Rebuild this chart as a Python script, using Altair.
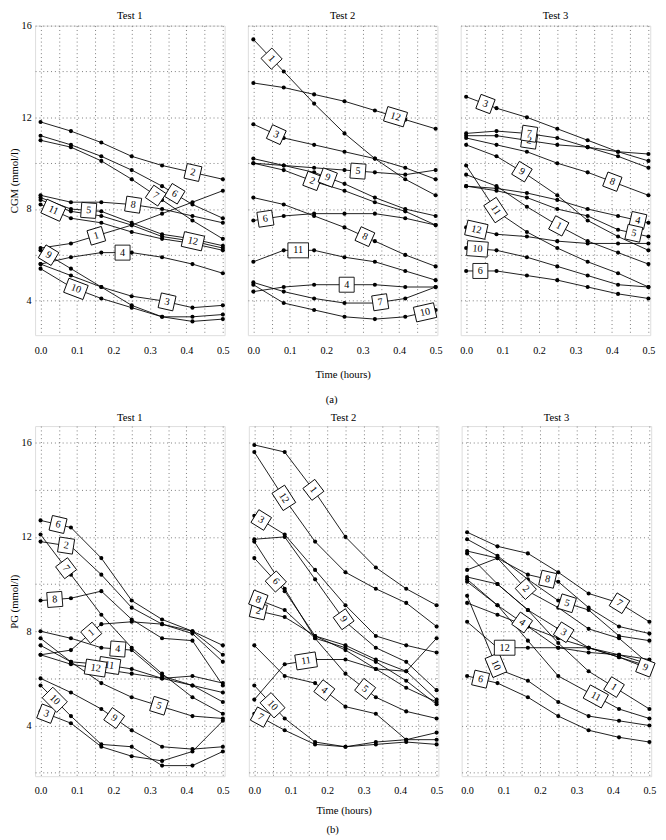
import altair as alt
import numpy as np
import pandas as pd

# ---------------- data ----------------
times = [0.0, 5 / 60, 10 / 60, 15 / 60, 20 / 60, 25 / 60, 30 / 60]
subjects = list(range(1, 13))

# CGM (mmol/l), rows = subject 1..12
cgm_test1 = [
    [6.3, 6.5, 6.9, 7.3, 7.8, 8.3, 8.8],
    [11.8, 11.4, 10.9, 10.3, 9.9, 9.6, 9.3],
    [5.6, 5.1, 4.6, 4.2, 4.0, 3.7, 3.8],
    [5.6, 5.9, 6.1, 6.1, 5.9, 5.6, 5.2],
    [8.5, 8.0, 7.9, 7.4, 6.9, 6.7, 6.4],
    [11.2, 10.8, 10.3, 9.7, 9.0, 8.2, 7.6],
    [11.0, 10.7, 10.1, 9.3, 8.4, 7.5, 6.7],
    [8.6, 8.3, 8.3, 8.2, 8.0, 7.7, 7.4],
    [6.2, 5.4, 4.6, 3.8, 3.3, 3.1, 3.2],
    [5.4, 4.6, 4.1, 3.7, 3.3, 3.3, 3.4],
    [8.2, 7.6, 7.4, 7.0, 6.7, 6.5, 6.2],
    [8.4, 7.9, 7.7, 7.3, 6.8, 6.6, 6.3],
]
cgm_test2 = [
    [15.4, 14.0, 12.6, 11.3, 10.2, 9.3, 8.6],
    [10.0, 9.7, 9.2, 8.8, 8.3, 7.9, 7.3],
    [11.7, 11.1, 10.8, 10.5, 10.2, 9.8, 9.3],
    [4.4, 4.6, 4.7, 4.7, 4.7, 4.6, 4.6],
    [10.0, 9.9, 9.8, 9.7, 9.6, 9.5, 9.7],
    [7.5, 7.7, 7.8, 7.8, 7.8, 7.6, 7.3],
    [4.8, 4.4, 4.1, 3.9, 3.9, 4.1, 4.6],
    [8.5, 8.2, 7.7, 7.2, 6.6, 6.0, 5.5],
    [10.2, 9.9, 9.6, 9.1, 8.5, 8.0, 7.7],
    [4.7, 3.9, 3.6, 3.3, 3.2, 3.3, 3.6],
    [5.7, 6.2, 6.2, 5.9, 5.7, 5.3, 4.9],
    [13.5, 13.3, 13.0, 12.7, 12.3, 11.9, 11.5],
]
cgm_test3 = [
    [9.5, 9.0, 8.1, 7.3, 6.6, 6.1, 5.6],
    [11.2, 11.2, 11.0, 10.8, 10.7, 10.5, 10.4],
    [12.9, 12.4, 12.0, 11.5, 11.0, 10.5, 10.1],
    [9.0, 8.9, 8.7, 8.4, 8.0, 7.7, 7.4],
    [9.0, 8.8, 8.5, 8.0, 7.7, 7.1, 6.8],
    [5.3, 5.3, 5.1, 4.9, 4.6, 4.3, 4.1],
    [11.3, 11.4, 11.3, 11.1, 10.7, 10.3, 9.8],
    [11.1, 10.8, 10.5, 10.0, 9.6, 9.1, 8.6],
    [10.8, 10.3, 9.5, 8.6, 7.5, 6.8, 6.2],
    [6.3, 6.2, 5.9, 5.5, 5.1, 4.7, 4.6],
    [9.9, 7.9, 7.0, 6.3, 5.7, 5.2, 4.6],
    [7.2, 6.9, 6.8, 6.6, 6.5, 6.5, 6.5],
]

# PG (mmol/l), rows = subject 1..12
pg_test1 = [
    [7.0, 7.2, 8.3, 8.4, 8.3, 8.0, 7.4],
    [11.8, 11.6, 10.4, 9.0, 8.3, 7.9, 6.7],
    [4.6, 4.1, 3.1, 2.7, 2.5, 2.9, 4.2],
    [8.0, 7.7, 7.3, 7.2, 6.1, 5.7, 5.4],
    [7.7, 6.7, 5.8, 5.2, 4.8, 4.4, 4.3],
    [12.7, 12.4, 11.1, 9.3, 8.5, 8.0, 7.0],
    [12.1, 10.4, 8.7, 7.3, 6.2, 5.2, 4.5],
    [9.3, 9.4, 9.7, 8.5, 7.7, 7.6, 5.7],
    [6.0, 5.4, 4.7, 3.8, 3.1, 3.0, 3.1],
    [5.7, 4.4, 3.2, 3.1, 2.3, 2.3, 2.9],
    [7.4, 6.7, 6.6, 6.4, 6.0, 6.1, 5.8],
    [7.0, 6.6, 6.4, 6.2, 6.0, 5.7, 5.0],
]
pg_test2 = [
    [15.9, 15.6, 13.9, 12.0, 10.7, 9.8, 9.1],
    [8.9, 8.6, 7.8, 7.2, 6.4, 5.6, 5.0],
    [12.9, 12.1, 10.6, 9.1, 7.8, 7.4, 7.1],
    [7.4, 6.1, 5.8, 4.8, 4.5, 3.4, 3.4],
    [11.8, 9.8, 7.7, 6.2, 5.2, 4.6, 4.3],
    [11.1, 9.7, 7.8, 7.4, 6.8, 6.3, 5.1],
    [4.5, 3.8, 3.2, 3.1, 3.2, 3.3, 3.2],
    [9.4, 8.9, 7.7, 7.3, 6.7, 5.9, 4.9],
    [11.9, 12.0, 10.2, 8.4, 7.3, 6.7, 5.5],
    [5.7, 4.3, 3.3, 3.1, 3.3, 3.4, 3.7],
    [5.1, 6.6, 6.8, 6.8, 6.4, 6.3, 7.7],
    [15.6, 13.6, 11.8, 10.5, 9.8, 9.2, 8.2],
]
pg_test3 = [
    [11.3, 10.0, 8.9, 7.5, 6.3, 5.5, 4.7],
    [11.4, 11.1, 9.7, 9.0, 8.1, 7.7, 6.6],
    [10.3, 10.0, 8.9, 8.1, 7.3, 6.9, 6.5],
    [10.2, 9.1, 8.2, 7.3, 7.1, 7.0, 6.6],
    [11.9, 11.2, 10.2, 9.3, 8.9, 7.8, 7.6],
    [6.1, 5.8, 5.2, 4.4, 3.8, 3.5, 3.3],
    [12.2, 11.6, 11.3, 10.5, 9.6, 9.2, 8.4],
    [10.6, 11.1, 10.4, 10.1, 9.0, 8.2, 7.9],
    [9.2, 8.7, 8.2, 7.7, 7.3, 6.9, 6.4],
    [9.5, 6.4, 5.9, 5.0, 4.4, 4.2, 4.0],
    [10.1, 9.1, 7.6, 6.1, 5.4, 4.7, 4.3],
    [8.4, 7.3, 7.3, 7.3, 7.3, 7.0, 6.8],
]

# time (hours) at which each subject's label box sits on its line
cgm_test1_label_t = [0.153, 0.418, 0.347, 0.225, 0.132, 0.368, 0.316, 0.254, 0.022, 0.097, 0.035, 0.418]
cgm_test2_label_t = [0.050, 0.162, 0.063, 0.256, 0.287, 0.033, 0.348, 0.306, 0.204, 0.471, 0.123, 0.390]
cgm_test3_label_t = [0.254, 0.173, 0.053, 0.471, 0.460, 0.039, 0.173, 0.401, 0.153, 0.031, 0.081, 0.028]
pg_test1_label_t = [0.139, 0.070, 0.016, 0.212, 0.325, 0.048, 0.070, 0.039, 0.202, 0.039, 0.189, 0.151]
pg_test2_label_t = [0.162, 0.011, 0.019, 0.192, 0.304, 0.059, 0.017, 0.011, 0.245, 0.050, 0.142, 0.081]
pg_test3_label_t = [0.403, 0.161, 0.265, 0.151, 0.274, 0.037, 0.418, 0.221, 0.489, 0.079, 0.353, 0.103]

tests = ["Test 1", "Test 2", "Test 3"]
x_grid = [0.0, 0.05, 0.1, 0.15, 0.2, 0.25, 0.3, 0.35, 0.4, 0.45, 0.5]

# ---------------- styling ----------------
SERIF = "Liberation Serif"
W = 196
XDOM = [-0.015, 0.505]
H_A, YDOM_A = 320, [2.5, 16.0]
H_B, YDOM_B = 362, [1.85, 16.7]
GRID = "#777777"
RECT1 = "M-1,-1H1V1H-1Z"
RECT2 = "M-1.375,-1H1.375V1H-1.375Z"


def panel(values, label_t, title, ydom, H, title_offset, xlabel_pad, xtitle_pad,
          ytitle=None, xtitle=None):
    rows = []
    for s, vals in zip(subjects, values):
        for t, v in zip(times, vals):
            rows.append({"subject": s, "t": t, "v": v})
    df = pd.DataFrame(rows)

    sx = W / (XDOM[1] - XDOM[0])
    sy = H / (ydom[1] - ydom[0])
    labs = []
    for s, vals, tl in zip(subjects, values, label_t):
        vl = float(np.interp(tl, times, vals))
        i = int(np.searchsorted(times, tl)) - 1
        i = min(max(i, 0), len(times) - 2)
        dx = (times[i + 1] - times[i]) * sx
        dy = -(vals[i + 1] - vals[i]) * sy
        ang = float(np.degrees(np.arctan2(dy, dx))) % 360
        labs.append({"lab": str(s), "t": tl, "v": vl, "angle": ang,
                     "wide": 1 if s >= 10 else 0})
    ldf = pd.DataFrame(labs)

    xaxis_kw = dict(values=x_grid, tickCount=30,
                    labelExpr="(round(datum.value*100) % 10 == 0) ? format(datum.value, '.1f') : ''",
                    grid=True, gridDash=[1, 3], gridColor=GRID, gridWidth=1,
                    domain=False, ticks=False, labelPadding=xlabel_pad,
                    labelOverlap=False, labelFlush=False, labelFont=SERIF,
                    labelFontSize=10.5, labelColor="black", titleFont=SERIF,
                    titleFontSize=11, titleFontWeight="normal", titleColor="black",
                    titlePadding=xtitle_pad)
    if xtitle:
        xaxis = alt.Axis(title=xtitle, **xaxis_kw)
    else:
        xaxis = alt.Axis(title=None, **xaxis_kw)

    yvals = [v for v in range(2, 17, 2) if ydom[0] <= v <= ydom[1]]
    if ytitle:
        yaxis = alt.Axis(values=yvals, tickCount=30, title=ytitle,
                         labelExpr="(datum.value % 4 == 0) ? format(datum.value, 'd') : ''",
                         grid=True, gridDash=[1, 3], gridColor=GRID, gridWidth=1,
                         domain=False, ticks=False, labelPadding=4, labelOverlap=False,
                         labelFont=SERIF, labelFontSize=10.5, labelColor="black",
                         titleFont=SERIF, titleFontSize=11, titleFontWeight="normal",
                         titleColor="black", titlePadding=2)
    else:
        yaxis = alt.Axis(values=yvals, tickCount=30, title=None, labels=False,
                         grid=True, gridDash=[1, 3], gridColor=GRID, gridWidth=1,
                         domain=False, ticks=False)

    xs = alt.Scale(domain=XDOM, nice=False, zero=False)
    ys = alt.Scale(domain=ydom, nice=False, zero=False)
    X = alt.X("t:Q", scale=xs, axis=xaxis)
    Y = alt.Y("v:Q", scale=ys, axis=yaxis)
    Xl = alt.X("t:Q", scale=xs)
    Yl = alt.Y("v:Q", scale=ys)

    base = alt.Chart(df)
    lines = base.mark_line(color="black", strokeWidth=0.9).encode(
        x=X, y=Y, detail="subject:N", order="t:Q")
    pts = base.mark_point(filled=True, color="black", size=18, opacity=1).encode(
        x=Xl, y=Yl)

    lbase = alt.Chart(ldf)
    box1 = lbase.transform_filter("datum.wide == 0").mark_point(
        shape=RECT1, size=240, filled=True, fill="white", stroke="black",
        strokeWidth=0.9, opacity=1, fillOpacity=1, strokeOpacity=1).encode(
        x=Xl, y=Yl, angle=alt.Angle("angle:Q", scale=None))
    box2 = lbase.transform_filter("datum.wide == 1").mark_point(
        shape=RECT2, size=240, filled=True, fill="white", stroke="black",
        strokeWidth=0.9, opacity=1, fillOpacity=1, strokeOpacity=1).encode(
        x=Xl, y=Yl, angle=alt.Angle("angle:Q", scale=None))
    txt = lbase.mark_text(font=SERIF, fontSize=10.5, color="black",
                          align="center", baseline="middle").encode(
        x=Xl, y=Yl, text="lab:N", angle=alt.Angle("angle:Q", scale=None))

    return alt.layer(lines, pts, box1, box2, txt).properties(
        width=W, height=H,
        title=alt.TitleParams(title, font=SERIF, fontSize=11, fontWeight="normal",
                              color="black", offset=title_offset, anchor="middle"))


row_a = alt.hconcat(
    panel(cgm_test1, cgm_test1_label_t, tests[0], YDOM_A, H_A, 0, 11, 13,
          ytitle="CGM (mmol/l)"),
    panel(cgm_test2, cgm_test2_label_t, tests[1], YDOM_A, H_A, 5, 11, 13,
          xtitle="Time (hours)"),
    panel(cgm_test3, cgm_test3_label_t, tests[2], YDOM_A, H_A, 5, 11, 13),
    spacing=16,
    title=alt.TitleParams("(a)", orient="bottom", anchor="middle", font=SERIF,
                          fontSize=11, fontWeight="normal", color="black", offset=15),
)
row_b = alt.hconcat(
    panel(pg_test1, pg_test1_label_t, tests[0], YDOM_B, H_B, 3, 10, 9,
          ytitle="PG (mmol/l)"),
    panel(pg_test2, pg_test2_label_t, tests[1], YDOM_B, H_B, 3, 10, 9,
          xtitle="Time (hours)"),
    panel(pg_test3, pg_test3_label_t, tests[2], YDOM_B, H_B, 3, 10, 9),
    spacing=16,
    title=alt.TitleParams("(b)", orient="bottom", anchor="middle", font=SERIF,
                          fontSize=11, fontWeight="normal", color="black", offset=9),
)

chart = alt.vconcat(
    row_a, row_b, spacing=7,
    padding={"left": 0, "right": 0, "top": -13, "bottom": 0},
).configure_view(strokeWidth=0).configure(font=SERIF, background="white")

chart.save("out.html", embed_options={"renderer": "svg", "actions": False})
